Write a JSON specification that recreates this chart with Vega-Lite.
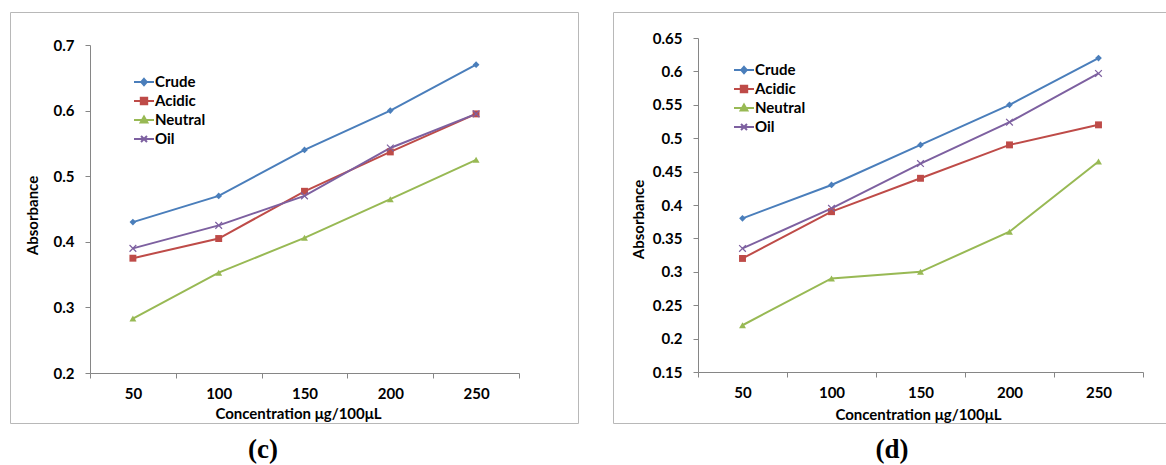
{
  "$schema": "https://vega.github.io/schema/vega-lite/v6.json",
  "padding": {"left": 9, "top": 11, "right": 0, "bottom": 0},
  "background": "white",
  "config": {
    "font": "Lato",
    "view": {"stroke": "#b8b8b8", "strokeWidth": 1},
    "axis": {
      "domainColor": "#868686", "tickColor": "#868686", "grid": false, "tickSize": 5,
      "labelFont": "Lato", "labelFontWeight": "bold", "labelFontSize": 15, "labelColor": "#000000",
      "titleFont": "Lato", "titleFontWeight": "bold", "titleFontSize": 15, "titleColor": "#000000"
    },
    "legend": {
      "title": null, "orient": "none", "symbolSize": 400, "labelFont": "Lato", "labelFontSize": 15,
      "labelFontWeight": "bold", "labelColor": "#000000", "labelOffset": 0, "padding": 0, "symbolStrokeWidth": 2
    },
    "title": {"font": "Liberation Serif", "fontSize": 27, "fontWeight": "bold", "color": "#000000"}
  },
  "datasets": {
    "absorb": [
      {"panel": "c", "series": "Crude", "conc": 50, "abs": 0.43},
      {"panel": "c", "series": "Crude", "conc": 100, "abs": 0.47},
      {"panel": "c", "series": "Crude", "conc": 150, "abs": 0.54},
      {"panel": "c", "series": "Crude", "conc": 200, "abs": 0.60},
      {"panel": "c", "series": "Crude", "conc": 250, "abs": 0.67},
      {"panel": "c", "series": "Acidic", "conc": 50, "abs": 0.375},
      {"panel": "c", "series": "Acidic", "conc": 100, "abs": 0.405},
      {"panel": "c", "series": "Acidic", "conc": 150, "abs": 0.477},
      {"panel": "c", "series": "Acidic", "conc": 200, "abs": 0.537},
      {"panel": "c", "series": "Acidic", "conc": 250, "abs": 0.595},
      {"panel": "c", "series": "Neutral", "conc": 50, "abs": 0.283},
      {"panel": "c", "series": "Neutral", "conc": 100, "abs": 0.353},
      {"panel": "c", "series": "Neutral", "conc": 150, "abs": 0.406},
      {"panel": "c", "series": "Neutral", "conc": 200, "abs": 0.465},
      {"panel": "c", "series": "Neutral", "conc": 250, "abs": 0.525},
      {"panel": "c", "series": "Oil", "conc": 50, "abs": 0.39},
      {"panel": "c", "series": "Oil", "conc": 100, "abs": 0.425},
      {"panel": "c", "series": "Oil", "conc": 150, "abs": 0.47},
      {"panel": "c", "series": "Oil", "conc": 200, "abs": 0.543},
      {"panel": "c", "series": "Oil", "conc": 250, "abs": 0.595},
      {"panel": "d", "series": "Crude", "conc": 50, "abs": 0.38},
      {"panel": "d", "series": "Crude", "conc": 100, "abs": 0.43},
      {"panel": "d", "series": "Crude", "conc": 150, "abs": 0.49},
      {"panel": "d", "series": "Crude", "conc": 200, "abs": 0.55},
      {"panel": "d", "series": "Crude", "conc": 250, "abs": 0.62},
      {"panel": "d", "series": "Acidic", "conc": 50, "abs": 0.32},
      {"panel": "d", "series": "Acidic", "conc": 100, "abs": 0.39},
      {"panel": "d", "series": "Acidic", "conc": 150, "abs": 0.44},
      {"panel": "d", "series": "Acidic", "conc": 200, "abs": 0.49},
      {"panel": "d", "series": "Acidic", "conc": 250, "abs": 0.52},
      {"panel": "d", "series": "Neutral", "conc": 50, "abs": 0.22},
      {"panel": "d", "series": "Neutral", "conc": 100, "abs": 0.29},
      {"panel": "d", "series": "Neutral", "conc": 150, "abs": 0.30},
      {"panel": "d", "series": "Neutral", "conc": 200, "abs": 0.36},
      {"panel": "d", "series": "Neutral", "conc": 250, "abs": 0.465},
      {"panel": "d", "series": "Oil", "conc": 50, "abs": 0.335},
      {"panel": "d", "series": "Oil", "conc": 100, "abs": 0.395},
      {"panel": "d", "series": "Oil", "conc": 150, "abs": 0.462},
      {"panel": "d", "series": "Oil", "conc": 200, "abs": 0.524},
      {"panel": "d", "series": "Oil", "conc": 250, "abs": 0.597}
    ]
  },
  "spacing": 33,
  "resolve": {
    "scale": {"x": "independent", "y": "independent", "color": "independent"},
    "legend": {"color": "independent"}
  },
  "hconcat": [
    {
      "width": 568,
      "height": 411,
      "data": {"name": "absorb"},
      "transform": [{"filter": "datum.panel === 'c'"}],
      "title": {"text": "(c)", "orient": "bottom", "anchor": "middle", "frame": "group", "dx": -31, "offset": 14},
      "encoding": {
        "x": {
          "field": "conc", "type": "ordinal",
          "scale": {"type": "band", "range": [80, 509], "paddingInner": 0, "paddingOuter": 0},
          "axis": {"title": "Concentration μg/100μL", "labelAngle": 0, "offset": -50, "tickBand": "extent", "labelPadding": 8, "titleBaseline": "middle", "titleX": 288, "titleY": 40}
        },
        "y": {
          "field": "abs", "type": "quantitative",
          "scale": {"domain": [0.2, 0.7], "range": [361, 33], "nice": false, "zero": false},
          "axis": {"title": "Absorbance", "values": [0.2, 0.3, 0.4, 0.5, 0.6, 0.7], "format": ".2~f", "offset": -80, "labelPadding": 11, "titleBaseline": "middle", "titleX": -58, "titleY": 203}
        },
        "color": {
          "field": "series", "type": "nominal",
          "scale": {"domain": ["Crude", "Acidic", "Neutral", "Oil"], "range": ["#4A7EBB", "#BE4B48", "#98B954", "#7D60A0"]},
          "legend": {
            "legendX": 123, "legendY": 59, "rowPadding": 0,
            "encode": {"symbols": {"update": {
              "shape": {"signal": "datum.value === 'Crude' ? 'M-1,0H1M0,-0.32L0.28,0L0,0.32L-0.28,0Z' : datum.value === 'Acidic' ? 'M-1,0H1M-0.32,-0.32H0.32V0.32H-0.32Z' : datum.value === 'Neutral' ? 'M-1,0H1M0,-0.34L0.34,0.26H-0.34Z' : 'M-1,0H1M-0.3,-0.3L0.3,0.3M-0.3,0.3L0.3,-0.3'"},
              "fill": {"signal": "datum.value === 'Crude' ? '#4A7EBB' : datum.value === 'Acidic' ? '#BE4B48' : datum.value === 'Neutral' ? '#98B954' : '#7D60A0'"},
              "stroke": {"signal": "datum.value === 'Crude' ? '#4A7EBB' : datum.value === 'Acidic' ? '#BE4B48' : datum.value === 'Neutral' ? '#98B954' : '#7D60A0'"},
              "strokeWidth": {"value": 2},
              "opacity": {"value": 1}
            }}}
          }
        }
      },
      "layer": [
        {"mark": {"type": "line", "strokeWidth": 2}, "encoding": {}},
        {"transform": [{"filter": "datum.series === 'Crude'"}], "mark": {"type": "point", "shape": "diamond", "filled": true, "opacity": 1, "size": 45}, "encoding": {}},
        {"transform": [{"filter": "datum.series === 'Acidic'"}], "mark": {"type": "point", "shape": "square", "filled": true, "opacity": 1, "size": 48}, "encoding": {}},
        {"transform": [{"filter": "datum.series === 'Neutral'"}], "mark": {"type": "point", "shape": "triangle-up", "filled": true, "opacity": 1, "size": 48}, "encoding": {}},
        {"transform": [{"filter": "datum.series === 'Oil'"}], "mark": {"type": "point", "shape": "M-1,-1L1,1M-1,1L1,-1", "filled": false, "opacity": 1, "strokeWidth": 1.2, "size": 45}, "encoding": {}}
      ]
    },
    {
      "width": 554,
      "height": 411,
      "data": {"name": "absorb"},
      "transform": [{"filter": "datum.panel === 'd'"}],
      "title": {"text": "(d)", "orient": "bottom", "anchor": "middle", "frame": "group", "dx": 2, "offset": 14},
      "encoding": {
        "x": {
          "field": "conc", "type": "ordinal",
          "scale": {"type": "band", "range": [85, 530], "paddingInner": 0, "paddingOuter": 0},
          "axis": {"title": "Concentration μg/100μL", "labelAngle": 0, "offset": -51, "tickBand": "extent", "labelPadding": 8, "titleBaseline": "middle", "titleX": 305, "titleY": 42}
        },
        "y": {
          "field": "abs", "type": "quantitative",
          "scale": {"domain": [0.15, 0.65], "range": [360, 26], "nice": false, "zero": false},
          "axis": {"title": "Absorbance", "values": [0.15, 0.2, 0.25, 0.3, 0.35, 0.4, 0.45, 0.5, 0.55, 0.6, 0.65], "format": ".2~f", "offset": -85, "labelPadding": 11, "titleBaseline": "middle", "titleX": -60, "titleY": 207}
        },
        "color": {
          "field": "series", "type": "nominal",
          "scale": {"domain": ["Crude", "Acidic", "Neutral", "Oil"], "range": ["#4A7EBB", "#BE4B48", "#98B954", "#7D60A0"]},
          "legend": {
            "legendX": 120, "legendY": 47, "rowPadding": -1.2,
            "encode": {"symbols": {"update": {
              "shape": {"signal": "datum.value === 'Crude' ? 'M-1,0H1M0,-0.32L0.28,0L0,0.32L-0.28,0Z' : datum.value === 'Acidic' ? 'M-1,0H1M-0.32,-0.32H0.32V0.32H-0.32Z' : datum.value === 'Neutral' ? 'M-1,0H1M0,-0.34L0.34,0.26H-0.34Z' : 'M-1,0H1M-0.3,-0.3L0.3,0.3M-0.3,0.3L0.3,-0.3'"},
              "fill": {"signal": "datum.value === 'Crude' ? '#4A7EBB' : datum.value === 'Acidic' ? '#BE4B48' : datum.value === 'Neutral' ? '#98B954' : '#7D60A0'"},
              "stroke": {"signal": "datum.value === 'Crude' ? '#4A7EBB' : datum.value === 'Acidic' ? '#BE4B48' : datum.value === 'Neutral' ? '#98B954' : '#7D60A0'"},
              "strokeWidth": {"value": 2},
              "opacity": {"value": 1}
            }}}
          }
        }
      },
      "layer": [
        {"mark": {"type": "line", "strokeWidth": 2}, "encoding": {}},
        {"transform": [{"filter": "datum.series === 'Crude'"}], "mark": {"type": "point", "shape": "diamond", "filled": true, "opacity": 1, "size": 45}, "encoding": {}},
        {"transform": [{"filter": "datum.series === 'Acidic'"}], "mark": {"type": "point", "shape": "square", "filled": true, "opacity": 1, "size": 48}, "encoding": {}},
        {"transform": [{"filter": "datum.series === 'Neutral'"}], "mark": {"type": "point", "shape": "triangle-up", "filled": true, "opacity": 1, "size": 48}, "encoding": {}},
        {"transform": [{"filter": "datum.series === 'Oil'"}], "mark": {"type": "point", "shape": "M-1,-1L1,1M-1,1L1,-1", "filled": false, "opacity": 1, "strokeWidth": 1.2, "size": 45}, "encoding": {}}
      ]
    }
  ]
}
